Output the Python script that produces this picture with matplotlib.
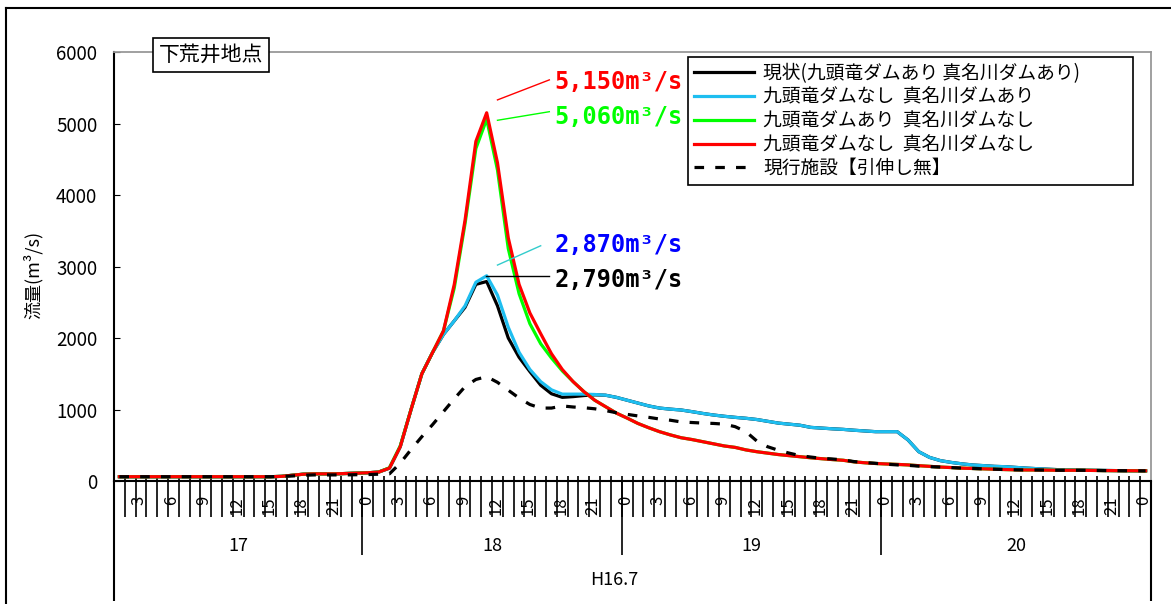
import numpy as np
import matplotlib.pyplot as plt
from matplotlib.lines import Line2D

plt.rcParams['font.family'] = ['Noto Sans CJK JP', 'DejaVu Sans']

# hourly discharge at 下荒井, 17日1時 - 21日0時 (m3/s)
day17 = [60, 60, 60, 60, 60, 60, 60, 60, 60, 60, 60, 60, 60, 60, 60, 65,
         80, 95, 100, 100, 100, 105, 110]
day17_old = [60, 60, 60, 60, 60, 60, 60, 60, 60, 60, 60, 60, 60, 60, 60, 65,
             70, 80, 85, 85, 85, 85, 88]

red18 = [115, 125, 180, 480, 1000, 1500, 1800, 2100, 2750, 3650, 4750, 5150,
         4450, 3400, 2750, 2350, 2060, 1780, 1560, 1390, 1250, 1130, 1040, 950]
green18 = [115, 125, 185, 490, 1000, 1500, 1800, 2100, 2700, 3600, 4650, 5060,
           4350, 3250, 2620, 2200, 1920, 1720, 1540, 1390, 1250, 1130, 1040, 950]
low19 = [880, 805, 745, 690, 645, 605, 580, 550, 520, 490, 470, 435,
         410, 390, 370, 355, 340, 325, 312, 300, 290, 268, 255, 245]
low20 = [238, 232, 225, 214, 205, 195, 188, 180, 175, 170, 165, 160,
         156, 154, 154, 152, 150, 150, 150, 148, 146, 145, 144, 143, 142]

cyan18 = [115, 125, 180, 480, 1000, 1500, 1800, 2050, 2240, 2450, 2780, 2870,
          2600, 2150, 1800, 1560, 1390, 1275, 1215, 1215, 1215, 1210, 1200, 1170]
black18 = [115, 125, 180, 480, 1000, 1500, 1800, 2050, 2240, 2430, 2750, 2790,
           2450, 2000, 1730, 1530, 1340, 1220, 1170, 1180, 1195, 1205, 1200, 1170]
high19 = [1130, 1090, 1050, 1020, 1005, 993, 970, 945, 923, 905, 890, 877,
          860, 835, 810, 795, 780, 750, 740, 730, 722, 710, 700, 690]
high20 = [690, 690, 575, 410, 330, 285, 260, 240, 224, 215, 205, 200,
          190, 180, 172, 165, 158, 155, 152, 150, 148, 146, 144, 143, 142]

old18 = [90, 95, 100, 250, 440, 620, 790, 970, 1150, 1320, 1420, 1460,
         1380, 1270, 1160, 1070, 1020, 1020, 1050, 1035, 1025, 1010, 985, 955]
old19 = [932, 910, 890, 867, 850, 826, 818, 810, 805, 795, 760, 690,
         560, 480, 430, 390, 355, 335, 317, 308, 295, 272, 258, 247]
old20 = [235, 225, 219, 208, 200, 195, 188, 180, 175, 170, 165, 160,
         156, 154, 154, 152, 150, 150, 150, 148, 146, 145, 144, 143, 142]

genjo = day17 + black18 + high19 + high20
no_kuzuryu = day17 + cyan18 + high19 + high20
no_managawa = day17 + green18 + low19 + low20
no_both = day17 + red18 + low19 + low20
old_facility = day17_old + old18 + old19 + old20

days = ['17', '18', '19', '20']
day_lengths = [23, 24, 24, 25]
hours = list(range(1, 24)) + list(range(24)) * 3 + [0]

labels = ['現状(九頭竜ダムあり 真名川ダムあり)',
          '九頭竜ダムなし  真名川ダムあり',
          '九頭竜ダムあり  真名川ダムなし',
          '九頭竜ダムなし  真名川ダムなし',
          '現行施設【引伸し無】']
colors = ['black', '#1EBEF0', '#00FF00', '#FF0000', 'black']
dash = (0, (3, 3.5))

# peak callouts: text, colour, leader colour, leader start, leader end, text position
peaks = [('5,150m³/s', '#FF0000', '#FF0000', (35.0, 5330), (39.8, 5610), (40.3, 5580)),
         ('5,060m³/s', '#00FF00', '#00FF00', (35.0, 5045), (39.8, 5165), (40.3, 5095)),
         ('2,870m³/s', '#0000FF', '#33CCCC', (35.0, 3020), (39.0, 3290), (40.3, 3300)),
         ('2,790m³/s', 'black', 'black', (33.9, 2870), (39.8, 2870), (40.3, 2810))]

n = len(hours)
x = np.arange(n)

fig = plt.figure(figsize=(11.71, 6.04), dpi=100)
ax = fig.add_axes([114 / 1171, 1 - 481 / 604, 1037 / 1171, 429 / 604])

series = [genjo, no_kuzuryu, no_managawa, no_both, old_facility]
for i, ys in enumerate(series):
    ls = dash if i == 4 else '-'
    ax.plot(x, ys, color=colors[i], lw=2.3, ls=ls, zorder=3 + i)

ax.set_xlim(-0.5, n - 0.5)
ax.set_ylim(0, 6000)
ax.set_yticks(range(0, 6001, 1000))
ax.tick_params(axis='y', direction='in', length=4, labelsize=13.5, pad=12)
ax.set_xticks([])
for side in ['top', 'right']:
    ax.spines[side].set_color('#999999')
    ax.spines[side].set_linewidth(1.3)
for side in ['left', 'bottom']:
    ax.spines[side].set_color('black')
    ax.spines[side].set_linewidth(1.5)

ax.text(-0.078, 0.48, '流量(m³/s)', transform=ax.transAxes, rotation=90,
        ha='center', va='center', fontsize=13)

# multi-level category axis: hour / day / month
tr = ax.get_xaxis_transform()
ax.vlines(np.arange(n - 1) + 0.5, -36 / 429, 5 / 429, transform=tr,
          color='black', lw=1.2, clip_on=False)
bounds = np.cumsum(day_lengths)[:-1] - 0.5
ax.vlines(bounds, -74 / 429, 0, transform=tr, color='black', lw=1.2,
          clip_on=False)
ax.vlines([-0.5, n - 0.5], -0.28, 0, transform=tr, color='black', lw=1.5,
          clip_on=False)
for i, h in enumerate(hours):
    if h % 3 == 0:
        ax.text(i - 0.15, -15 / 429, str(h), transform=tr, rotation=90,
                ha='center', va='top', fontsize=12)
start = 0
for d, length in zip(days, day_lengths):
    ax.text(start + (length - 1) / 2, -65 / 429, d, transform=tr,
            ha='center', va='center', fontsize=13)
    start += length
ax.text(45.8, -99 / 429, 'H16.7', transform=tr, ha='center', va='center',
        fontsize=13)

for text, tc, lc, p0, p1, pt in peaks:
    ax.plot([p0[0], p1[0]], [p0[1], p1[1]], color=lc, lw=1, zorder=9)
    ax.text(pt[0], pt[1], text, color=tc, fontsize=17, fontweight='bold',
            family='DejaVu Sans Mono', ha='left', va='center', zorder=9)

ax.text(0.0935, 0.993, '下荒井地点', transform=ax.transAxes, ha='center',
        va='center', fontsize=15, zorder=10,
        bbox=dict(boxstyle='square,pad=0.28', fc='white', ec='black', lw=1.2))

handles = [Line2D([], [], color=c, lw=2.3, ls=dash if i == 4 else '-')
           for i, c in enumerate(colors)]
leg = ax.legend(handles, labels, loc='upper left',
                bbox_to_anchor=(0.5535, 0.5, 0.4291, 0.4883), mode='expand',
                fontsize=13.5, handlelength=3.2, handletextpad=0.5,
                labelspacing=0.15, borderpad=0.3, borderaxespad=0,
                fancybox=False, framealpha=1, edgecolor='black')
leg.get_frame().set_linewidth(1.2)
leg.set_zorder(11)

# outer chart frame
fig.add_artist(Line2D([6 / 1171, 6 / 1171], [0, 1 - 8 / 604], color='black', lw=1.5))
fig.add_artist(Line2D([6 / 1171, 1], [1 - 8 / 604, 1 - 8 / 604], color='black', lw=1.5))

fig.savefig('out.png', dpi=100)
